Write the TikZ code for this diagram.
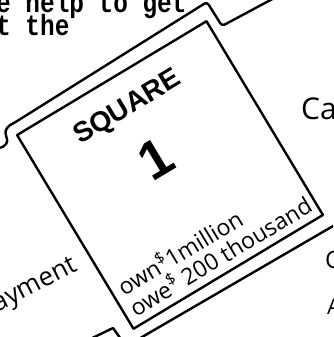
\documentclass[tikz,border=0pt]{standalone}
\usepackage{fontspec}
\setmainfont{Liberation Sans}
\newfontfamily\typefont{Liberation Mono}
\newfontfamily\handfont{Open Sans}
\usetikzlibrary{positioning}

\begin{document}
\begin{tikzpicture}[x=1pt,y=-1pt,line width=2.4pt,line join=round,
  typed/.style={anchor=base west,inner sep=0pt,font=\typefont\bfseries\fontsize{24.4}{28}\selectfont},
  hand/.style={inner sep=0pt,font=\handfont\fontsize{23}{26}\selectfont}]
\useasboundingbox (0,0) rectangle (333,337);
\clip (0,0) rectangle (333,337);
% text of the page above
\node[typed] (textA) at (-5,13) {\scalebox{1}[1.2]{e help to get}};
\node[typed] (textB) at (-5,36) {\scalebox{1}[1.2]{t the}};
% edges of the board
\draw[rounded corners=3pt] (0,148) .. controls (6,146) and (8,142) .. (6,136) .. controls (5,130) and (8,126) .. (14,123) -- (207,2) -- (222,26) -- (278,-4);
\draw (340,222) -- (118,351);
\draw (82,343) -- (113,328) -- (123,342);
% the square card
\node[draw,minimum width=221pt,minimum height=226pt,rotate=31] (card) at (170,175) {};
\node[rotate=31,font=\bfseries\fontsize{28}{30}\selectfont] (title) at (128,108) {SQUARE};
\node[rotate=31,font=\bfseries\fontsize{54}{58}\selectfont] (num) at (156,159) {1};
\node[hand,rotate=31,anchor=base west] (own) at (123,297) {own\textsuperscript{\$}1million};
\node[hand,rotate=31,anchor=base west] (owe) at (135,318) {owe\textsuperscript{\$} 200 thousand};
% labels cut off at the sides
\node[hand,anchor=base east,rotate=27,font=\handfont\fontsize{26}{30}\selectfont] (payment) at (80,270) {payment};
\node[hand,anchor=base east,rotate=27,font=\handfont\fontsize{26}{30}\selectfont] (fragL) at (7,264) {r};
\node[hand,anchor=base west,font=\handfont\fontsize{30}{34}\selectfont] (fragCa) at (300,119) {Ca};
\node[hand,anchor=base west,font=\handfont\fontsize{24}{28}\selectfont] (fragC) at (324,268) {C};
\node[hand,anchor=base west,font=\handfont\fontsize{22}{26}\selectfont] (fragA) at (326,314) {A};
\end{tikzpicture}
\end{document}
